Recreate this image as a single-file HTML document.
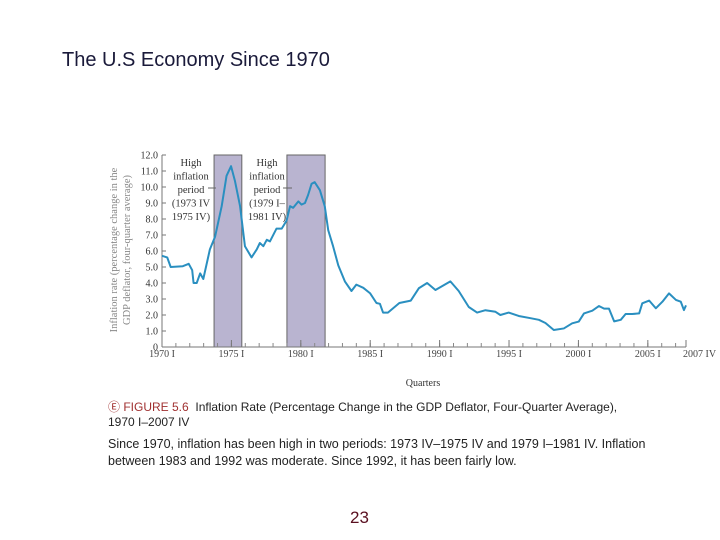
<!DOCTYPE html>
<html><head><meta charset="utf-8">
<style>
html,body{margin:0;padding:0;background:#fff;}
body{width:720px;height:540px;position:relative;overflow:hidden;font-family:"Liberation Sans",Arial,sans-serif;}
.t{position:absolute;white-space:nowrap;}
</style></head>
<body>
<div class="t" style="left:62px;top:49px;font-size:20px;color:#1a1a3a;">The U.S Economy Since 1970</div>
<svg id="chart" width="720" height="540" style="position:absolute;left:0;top:0" font-family="Liberation Serif, serif"></svg>
<div class="t" style="left:108px;top:400px;font-size:12px;color:#222;line-height:15px;"><span style="color:#a03030">&#9402; FIGURE 5.6</span>&nbsp; Inflation Rate (Percentage Change in the GDP Deflator, Four-Quarter Average),<br>1970 I–2007 IV</div>
<div class="t" style="left:108px;top:436px;font-size:12.5px;color:#222;line-height:16.5px;">Since 1970, inflation has been high in two periods: 1973 IV–1975 IV and 1979 I–1981 IV. Inflation<br>between 1983 and 1992 was moderate. Since 1992, it has been fairly low.</div>
<div class="t" style="left:350px;top:508px;font-size:17px;color:#5a1020;">23</div>
<script>
const quarters=[0,1.5,2.5,6,7.7,8.7,9.1,10,11,11.9,13.8,15.3,17.2,18.6,19.9,21,22.5,23.9,25.8,27.3,28.2,29.2,30.2,31.1,33,34.5,35.9,36.9,37.8,39.3,40.2,41.2,42.1,43.1,44,45.5,46.9,47.9,49.3,50.8,52.7,54.6,56,58,60,61.8,62.8,63.7,65.1,68.4,71.7,74,76.4,78.8,83.1,85.5,88.4,90.8,93.2,96.1,97.5,99.9,102.8,106.2,108.6,110.5,112.9,115.8,118.2,120.1,121.6,124,125.9,127.4,128.8,130.3,132.2,133.6,135.5,137.5,138.4,140.4,142.3,144.2,146.1,148.1,149.5,150.4,151];
const inflation=[5.7,5.6,5.0,5.05,5.2,4.8,4.0,4.0,4.6,4.25,6.1,6.9,8.8,10.7,11.3,10.4,8.8,6.3,5.6,6.1,6.5,6.3,6.7,6.6,7.4,7.4,7.9,8.8,8.7,9.1,8.9,9.0,9.5,10.2,10.3,9.8,8.8,7.3,6.3,5.1,4.1,3.5,3.9,3.7,3.35,2.75,2.7,2.15,2.15,2.75,2.9,3.67,4.0,3.56,4.1,3.5,2.5,2.15,2.3,2.2,2.0,2.15,1.94,1.8,1.7,1.5,1.06,1.16,1.48,1.59,2.1,2.27,2.56,2.4,2.4,1.6,1.7,2.06,2.06,2.1,2.73,2.9,2.42,2.83,3.35,2.94,2.83,2.31,2.6];
const yTicks=[0,1,2,3,4,5,6,7,8,9,10,11,12];
const yTickLabels=["0","1.0","2.0","3.0","4.0","5.0","6.0","7.0","8.0","9.0","10.0","11.0","12.0"];
const xTickQuarters=[0,20,40,60,80,100,120,140,151];
const xTickLabels=["1970 I","1975 I","1980 I","1985 I","1990 I","1995 I","2000 I","2005 I","2007 IV"];
const shadeStart=[15,36];
const shadeEnd=[23,47];

const X0=162,X1=686,Y0=347,Y1=155,QMAX=151,VMAX=12;
const xs=q=>X0+q*(X1-X0)/QMAX;
const ys=v=>Y0-v*(Y0-Y1)/VMAX;
const svg=document.getElementById('chart');
const NS='http://www.w3.org/2000/svg';
function mk(tag,attrs){const e=document.createElementNS(NS,tag);for(const k in attrs)e.setAttribute(k,attrs[k]);svg.appendChild(e);return e;}

for(let i=0;i<shadeStart.length;i++){
  const r=mk('rect',{x:xs(shadeStart[i]),y:ys(12),width:xs(shadeEnd[i])-xs(shadeStart[i]),height:ys(0)-ys(12),fill:'#b9b4d0',stroke:'#666',"stroke-width":1});
  
  
}
const ya=mk('line',{x1:X0,y1:ys(0),x2:X0,y2:ys(12),stroke:'#777'});


yTicks.forEach((v,i)=>{
  mk('line',{x1:X0,y1:ys(v),x2:X0+4,y2:ys(v),stroke:'#777'});
  const t=mk('text',{x:X0-4,y:ys(v)+3.5,"text-anchor":"end","font-size":10,fill:'#333'});
  t.textContent=yTickLabels[i];
  
  
});
const xa=mk('line',{x1:X0,y1:Y0,x2:X1,y2:Y0,stroke:'#777'});


for(let q=0;q<=QMAX;q+=4){mk('line',{x1:xs(q),y1:Y0,x2:xs(q),y2:Y0-4,stroke:'#888'});}
xTickQuarters.forEach((q,i)=>{
  mk('line',{x1:xs(q),y1:Y0,x2:xs(q),y2:Y0-7,stroke:'#777'});
  const last=i===xTickQuarters.length-1;
  const t=mk('text',{x:xs(q)+(last?-3:0),y:Y0+10,"text-anchor":last?"start":"middle","font-size":10,fill:'#444'});
  t.textContent=xTickLabels[i];
  
  
});
const pl=mk('polyline',{points:quarters.map((q,i)=>xs(q)+','+ys(inflation[i])).join(' '),fill:'none',stroke:'#2a8fc0',"stroke-width":2,"stroke-linejoin":"round"});


function txt(x,y,s,name){const t=mk('text',{x:x,y:y,"text-anchor":"middle","font-size":10.5,fill:'#333'});t.textContent=s;return t;}
["High","inflation","period","(1973 IV","1975 IV)"].forEach((s,i)=>txt(191,166+i*13.5,s,'annotation-period-1'));
["High","inflation","period","(1979 I–","1981 IV)"].forEach((s,i)=>txt(267,166+i*13.5,s,'annotation-period-2'));
mk('line',{x1:208,y1:188,x2:216,y2:188,stroke:'#666'});
mk('line',{x1:283,y1:188,x2:292,y2:188,stroke:'#666'});
const xl=mk('text',{x:423,y:386,"text-anchor":"middle","font-size":10,fill:'#333'});xl.textContent='Quarters';


const yl=mk('text',{x:0,y:0,"text-anchor":"middle","font-size":10.5,fill:'#888',transform:'translate(117,250) rotate(-90)'});
yl.textContent='Inflation rate (percentage change in the';


const yl2=mk('text',{x:0,y:0,"text-anchor":"middle","font-size":10.5,fill:'#888',transform:'translate(130,250) rotate(-90)'});
yl2.textContent='GDP deflator, four-quarter average)';


</script>
</body></html>
